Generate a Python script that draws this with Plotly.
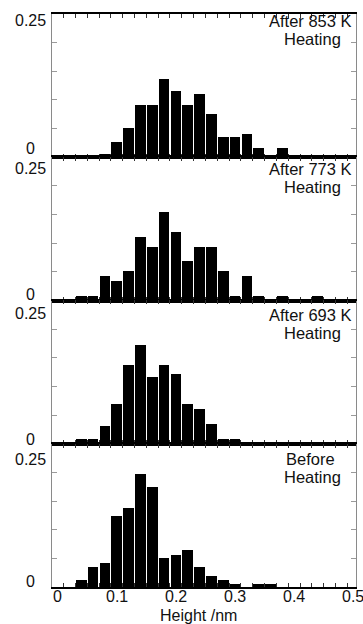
import plotly.graph_objects as go
from plotly.subplots import make_subplots

# ---- data ----
height_nm = [0.02, 0.04, 0.06, 0.08, 0.10, 0.12, 0.14, 0.16, 0.18, 0.20, 0.22, 0.24,
             0.26, 0.28, 0.30, 0.32, 0.34, 0.36, 0.38, 0.40, 0.42, 0.44, 0.46, 0.48]
after_853 = [0, 0, 0, 0.006, 0.026, 0.051, 0.091, 0.091, 0.137, 0.116, 0.091, 0.111,
             0.076, 0.036, 0.036, 0.041, 0.016, 0.002, 0.016, 0, 0, 0, 0, 0.002]
after_773 = [0, 0.008, 0.008, 0.043, 0.034, 0.051, 0.111, 0.093, 0.154, 0.119, 0.068, 0.093,
             0.093, 0.051, 0.008, 0.043, 0.008, 0, 0.008, 0, 0, 0.008, 0, 0]
after_693 = [0, 0.010, 0.010, 0.031, 0.071, 0.138, 0.173, 0.117, 0.138, 0.122, 0.071, 0.061,
             0.036, 0.010, 0.010, 0, 0, 0.004, 0, 0, 0, 0, 0, 0]
before = [0, 0.013, 0.036, 0.043, 0.124, 0.138, 0.197, 0.175, 0.051, 0.057, 0.065, 0.036,
          0.020, 0.013, 0.005, 0, 0.005, 0.005, 0, 0, 0, 0, 0, 0]
panel_titles = [("After 853 K", "Heating"), ("After 773 K", "Heating"),
                ("After 693 K", "Heating"), ("Before", "Heating")]
x_title = "Height /nm"
x_tick_vals = [0, 0.1, 0.2, 0.3, 0.4, 0.5]
x_tick_text = ["0", "0.1", "0.2", "0.3", "0.4", "0.5"]
bin_edges = [0.01, 0.03, 0.05, 0.07, 0.09, 0.11, 0.13, 0.15, 0.17, 0.19, 0.21, 0.23, 0.25,
             0.27, 0.29, 0.31, 0.33, 0.35, 0.37, 0.39, 0.41, 0.43, 0.45, 0.47, 0.49]
y_tick_text = ["0", "0.25"]
series = [after_853, after_773, after_693, before]

W, H = 363, 624
ML, MR, MT, MB = 52, 7, 14, 37
FONT = "Liberation Sans, Arial, sans-serif"
TXT = "#111"

fig = make_subplots(rows=4, cols=1, shared_xaxes=True, vertical_spacing=0)
for i, vals in enumerate(series):
    fig.add_trace(go.Bar(x=height_nm, y=vals, width=0.0182,
                         marker=dict(color="black", line=dict(width=0)),
                         showlegend=False, hoverinfo="skip"), row=i + 1, col=1)

for i in range(4):
    fig.update_xaxes(row=i + 1, col=1, automargin=False,
                     range=[-0.0095, 0.5045], showgrid=False, zeroline=False,
                     showline=True, linecolor="black", linewidth=1.5, mirror="ticks",
                     tickmode="array", tickvals=x_tick_vals, ticks="",
                     showticklabels=False,
                     minor=dict(tickmode="array", tickvals=bin_edges, ticks="inside",
                                ticklen=4, tickwidth=1, tickcolor="#333"))
    fig.update_yaxes(row=i + 1, col=1, automargin=False,
                     range=[0, 0.25], showgrid=False, zeroline=False,
                     showline=True, linecolor="#8a8a8a", linewidth=1, mirror="ticks",
                     dtick=0.05, ticks="inside", ticklen=5, tickcolor="#9a9a9a",
                     showticklabels=False)


def py(ypx):
    # ypx: pixel row in the screenshot
    return (H - MB - ypx) / (H - MT - MB)


def px(xpx):
    # xpx: pixel column in the screenshot
    return (xpx - ML) / (W - ML - MR)


annotations = []
# y tick labels (panel: (0.25 label y, 0 label y) in pixels)
ylab_pos = [(21, 149), (168, 294), (313, 439), (459, 581)]
for (ytop, ybot) in ylab_pos:
    annotations.append(dict(text=y_tick_text[1], x=px(31), y=py(ytop), size=16))
    annotations.append(dict(text=y_tick_text[0], x=px(31), y=py(ybot), size=16))
# panel titles (line1 y, line2 y)
title_pos = [(21, 39), (169, 187), (315, 333), (459, 477)]
for (l1, l2), (y1, y2) in zip(panel_titles, title_pos):
    annotations.append(dict(text=l1, x=px(310), y=py(y1), size=16.5))
    annotations.append(dict(text=l2, x=px(312), y=py(y2), size=16.5))
# x tick labels on the bottom axis (placed at their data values)
for v, t in zip(x_tick_vals, x_tick_text):
    annotations.append(dict(text=t, x=v, xref="x4", y=py(596), size=16))
# x-axis title
annotations.append(dict(text=x_title, x=px(198.5), y=py(615), size=16))
for a in annotations:
    s = a.pop("size")
    a.setdefault("xref", "paper")
    a.update(yref="paper", xanchor="center", yanchor="middle",
             showarrow=False, font=dict(family=FONT, size=s, color=TXT))
fig.update_layout(annotations=annotations)

fig.update_layout(width=W, height=H, margin=dict(l=ML, r=MR, t=MT, b=MB),
                  plot_bgcolor="white", paper_bgcolor="white", bargap=0,
                  hovermode=False,
                  font=dict(family=FONT, size=16, color=TXT))

# remove the default 8px page margin so the figure fills the 363x624 window exactly
fig.write_html("out.html", config={"displayModeBar": False},
               post_script="document.body.style.margin='0';")
